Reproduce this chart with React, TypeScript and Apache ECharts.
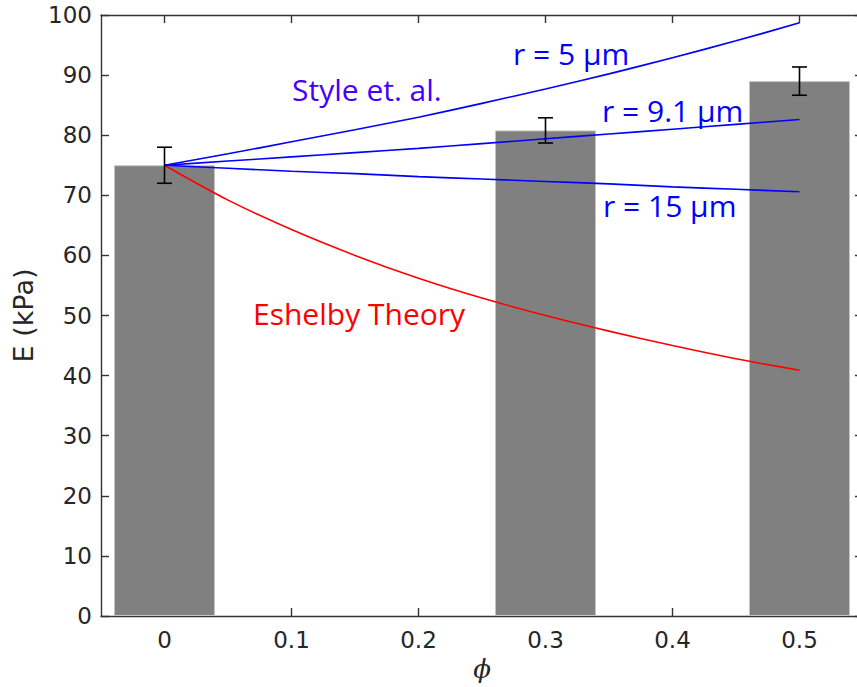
import React, { useEffect, useRef } from "react";
import * as echarts from "echarts";

const barPhi = [0, 0.3, 0.5];
const barE = [75, 80.8, 89];
const barErr = [3, 2.1, 2.35];

const curvePhi = [0, 0.05, 0.1, 0.15, 0.2, 0.25, 0.3, 0.35, 0.4, 0.45, 0.5];
const eshelby = [75, 69.2, 64.3, 60.0, 56.2, 52.9, 50.0, 47.4, 45.0, 42.8, 40.9];
const styleR5 = [75, 76.9, 78.9, 80.9, 83.0, 85.3, 87.7, 90.2, 92.9, 95.7, 98.7];
const styleR91 = [75, 75.7, 76.4, 77.1, 77.8, 78.6, 79.4, 80.2, 81.0, 81.8, 82.6];
const styleR15 = [75, 74.5, 74.0, 73.6, 73.1, 72.7, 72.3, 71.9, 71.4, 71.0, 70.6];

const xTicks = [0, 0.1, 0.2, 0.3, 0.4, 0.5];

const AXIS = "#333333";
const TICK_FONT = "DejaVu Sans";

export default function App() {
  const ref = useRef<HTMLDivElement>(null);
  useEffect(() => {
    if (!ref.current) return;
    const chart = echarts.init(ref.current, null, { renderer: "svg" });
    const pairs = (ys: number[]) => curvePhi.map((p, i) => [p, ys[i]]);
    const lineSeries = (name: string, ys: number[], color: string) => ({
      name,
      type: "line",
      data: pairs(ys),
      showSymbol: false,
      symbol: "none",
      smooth: 0.3,
      lineStyle: { color, width: 1.6 },
      z: 3,
    });
    const annText = (text: string, x: number, y: number, color: string) => ({
      type: "text",
      x,
      y,
      z: 10,
      style: {
        text,
        fill: color,
        fontSize: 30,
        fontFamily: "Open Sans",
        textAlign: "left",
        textVerticalAlign: "middle",
      },
    });
    const axisLine = { show: true, onZero: false, lineStyle: { color: AXIS, width: 1.4 } };
    chart.setOption({
      animation: false,
      backgroundColor: "#ffffff",
      grid: { left: 101, top: 15, right: 0, bottom: 71 },
      xAxis: [
        {
          type: "value",
          min: -0.05,
          max: 0.55,
          name: "\u03D5",
          nameLocation: "middle",
          nameGap: 40,
          nameTextStyle: {
            fontFamily: "DejaVu Serif",
            fontStyle: "italic",
            fontSize: 26,
            color: "#262626",
          },
          axisLine,
          axisTick: { show: true, inside: true, length: 8, customValues: xTicks, lineStyle: { color: AXIS, width: 1.4 } },
          axisLabel: {
            customValues: xTicks,
            formatter: (v: number) => String(v),
            fontFamily: TICK_FONT,
            fontSize: 23,
            color: "#262626",
            margin: 12,
          },
          splitLine: { show: false },
        },
        {
          type: "value",
          position: "top",
          min: -0.05,
          max: 0.55,
          axisLine,
          axisTick: { show: true, inside: true, length: 8, customValues: xTicks, lineStyle: { color: AXIS, width: 1.4 } },
          axisLabel: { show: false },
          splitLine: { show: false },
        },
      ],
      yAxis: [
        {
          type: "value",
          min: 0,
          max: 100,
          interval: 10,
          name: "E (kPa)",
          nameLocation: "middle",
          nameGap: 62,
          nameTextStyle: { fontFamily: TICK_FONT, fontSize: 27, color: "#262626" },
          axisLine,
          axisTick: { show: true, inside: true, length: 8, lineStyle: { color: AXIS, width: 1.4 } },
          axisLabel: { fontFamily: TICK_FONT, fontSize: 23, color: "#262626", margin: 9 },
          splitLine: { show: false },
        },
        {
          type: "value",
          position: "right",
          min: 0,
          max: 100,
          interval: 10,
          axisLine,
          axisTick: { show: true, inside: true, length: 8, lineStyle: { color: AXIS, width: 1.4 } },
          axisLabel: { show: false },
          splitLine: { show: false },
        },
      ],
      series: [
        {
          name: "E",
          type: "bar",
          data: barPhi.map((p, i) => [p, barE[i]]),
          barWidth: 101,
          itemStyle: { color: "#808080", borderColor: "#c4c4c4", borderWidth: 1 },
          z: 1,
        },
        lineSeries("Eshelby", eshelby, "#ff0000"),
        lineSeries("r5", styleR5, "#0000ff"),
        lineSeries("r9.1", styleR91, "#0000ff"),
        lineSeries("r15", styleR15, "#0000ff"),
        {
          name: "err",
          type: "custom",
          data: barPhi.map((p, i) => [p, barE[i], barErr[i]]),
          z: 5,
          renderItem: (params: any, api: any) => {
            const x = api.value(0);
            const y = api.value(1);
            const e = api.value(2);
            const top = api.coord([x, y + e]);
            const bot = api.coord([x, y - e]);
            const hw = 7.5;
            const st = { stroke: "#000000", lineWidth: 1.6 };
            return {
              type: "group",
              children: [
                { type: "line", shape: { x1: top[0], y1: top[1], x2: bot[0], y2: bot[1] }, style: st },
                { type: "line", shape: { x1: top[0] - hw, y1: top[1], x2: top[0] + hw, y2: top[1] }, style: st },
                { type: "line", shape: { x1: bot[0] - hw, y1: bot[1], x2: bot[0] + hw, y2: bot[1] }, style: st },
              ],
            };
          },
        },
      ],
      graphic: [
        annText("Style et. al.", 292, 89, "#4400ff"),
        annText("r = 5 \u03BCm", 513, 53, "#0000ff"),
        annText("r = 9.1 \u03BCm", 602, 110, "#0000ff"),
        annText("r = 15 \u03BCm", 603, 205, "#0000ff"),
        annText("Eshelby Theory", 253, 313, "#ff0000"),
      ],
    });
    return () => chart.dispose();
  }, []);
  return (
    <div
      style={{
        position: "fixed",
        left: 0,
        top: 0,
        width: 857,
        height: 687,
        overflow: "hidden",
        background: "#ffffff",
      }}
    >
      <div ref={ref} style={{ width: 863, height: 687 }} />
    </div>
  );
}
